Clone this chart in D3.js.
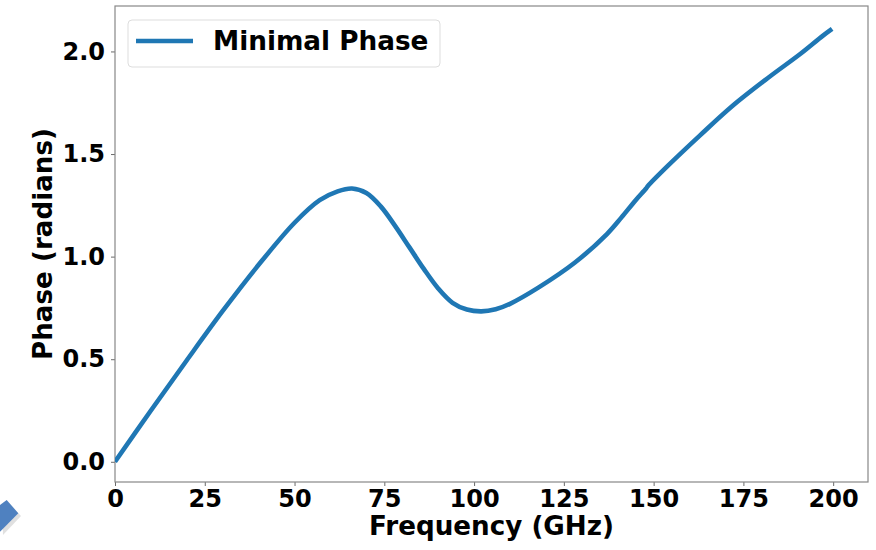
<!DOCTYPE html>
<html>
<head>
<meta charset="utf-8">
<script src="https://cdn.jsdelivr.net/npm/d3@7"></script>
<style>
  html, body { margin: 0; padding: 0; background: #fff; }
  svg { display: block; font-family: "DejaVu Sans", sans-serif; font-weight: bold; }
</style>
</head>
<body>
<svg id="chart" width="876" height="550"></svg>
<script>
// Frequency (GHz)
const freq = [0, 10, 20, 30, 40, 50, 57, 62, 66, 70, 74, 78, 82, 86, 90, 94, 98, 102,
  106, 110, 118, 128, 137, 141, 145, 147.9, 148.4, 154, 163, 172, 182, 191, 197, 199.7];
// Phase (radians)
const phase = [0, 0.25, 0.495, 0.735, 0.96, 1.165, 1.275, 1.318, 1.332, 1.31, 1.245, 1.15, 1.045, 0.94, 0.845, 0.775, 0.742, 0.733,
  0.743, 0.77, 0.85, 0.97, 1.11, 1.19, 1.275, 1.332, 1.344, 1.443, 1.592, 1.735, 1.873, 1.99, 2.075, 2.11];

const xTicks = [0, 25, 50, 75, 100, 125, 150, 175, 200];
const yTicks = [0.0, 0.5, 1.0, 1.5, 2.0];
const seriesName = "Minimal Phase";

const width = 876, height = 550;
const margin = { top: 6, right: 8, bottom: 68, left: 115 };
const innerW = width - margin.left - margin.right;
const innerH = height - margin.top - margin.bottom;

const svg = d3.select("#chart");

// stray slide arrow fragment in the corner
svg.append("polygon")
  .attr("points", "2,508 9,503 21,516 3,535")
  .attr("fill", "#000").attr("opacity", 0.12);
svg.append("polygon")
  .attr("points", "0,505 6.7,500 18.3,513.3 0,531.7")
  .attr("fill", "#4f81c0");

const x = d3.scaleLinear().domain([0, 209.7]).range([0, innerW]);
const y = d3.scaleLinear().domain([-0.0985, 2.2215]).range([innerH, 0]);

const g = svg.append("g").attr("transform", `translate(${margin.left},${margin.top})`);

g.append("clipPath").attr("id", "clip")
  .append("rect").attr("width", innerW).attr("height", innerH);

// style tick marks + labels (axis() resets font-family, so set it afterwards)
function styleAxis(sel) {
  sel.attr("font-family", "DejaVu Sans");
  sel.select(".domain").remove();
  sel.selectAll("line").attr("stroke", "#444").attr("stroke-width", 0.8);
  sel.selectAll("text")
    .attr("fill", "#000")
    .style("font-family", "'DejaVu Sans', sans-serif")
    .style("font-size", "24px")
    .style("font-weight", "bold");
}

// X axis
g.append("g")
  .attr("transform", `translate(0,${innerH})`)
  .call(d3.axisBottom(x).tickValues(xTicks).tickFormat(d3.format("d")).tickSize(4).tickPadding(4))
  .call(styleAxis);

// Y axis
g.append("g")
  .call(d3.axisLeft(y).tickValues(yTicks).tickFormat(d3.format(".1f")).tickSize(4).tickPadding(6))
  .call(styleAxis);

// frame
g.append("rect")
  .attr("width", innerW).attr("height", innerH)
  .attr("fill", "none").attr("stroke", "#888").attr("stroke-width", 1.2);

// curve
const line = d3.line()
  .x((d, i) => x(freq[i]))
  .y(d => y(d))
  .curve(d3.curveCatmullRom.alpha(0.5));

g.append("path")
  .datum(phase)
  .attr("clip-path", "url(#clip)")
  .attr("fill", "none")
  .attr("stroke", "#1f77b4")
  .attr("stroke-width", 4.6)
  .attr("stroke-linejoin", "round")
  .attr("d", line);

// axis labels
g.append("text")
  .attr("x", innerW / 2).attr("y", innerH + 53)
  .attr("text-anchor", "middle")
  .style("font-size", "26.2px")
  .text("Frequency (GHz)");

g.append("text")
  .attr("transform", `translate(${-63},${innerH / 2}) rotate(-90)`)
  .attr("text-anchor", "middle")
  .style("font-size", "26.2px")
  .text("Phase (radians)");

// legend
const legend = g.append("g").attr("transform", "translate(13,14)");
legend.append("rect")
  .attr("width", 312).attr("height", 47).attr("rx", 4)
  .attr("fill", "#fff").attr("fill-opacity", 0.8)
  .attr("stroke", "#ddd").attr("stroke-width", 1);
legend.append("line")
  .attr("x1", 8).attr("x2", 65).attr("y1", 21).attr("y2", 21)
  .attr("stroke", "#1f77b4").attr("stroke-width", 4.6);
legend.append("text")
  .attr("x", 85).attr("y", 30)
  .style("font-size", "26.3px")
  .text(seriesName);
</script>
</body>
</html>
